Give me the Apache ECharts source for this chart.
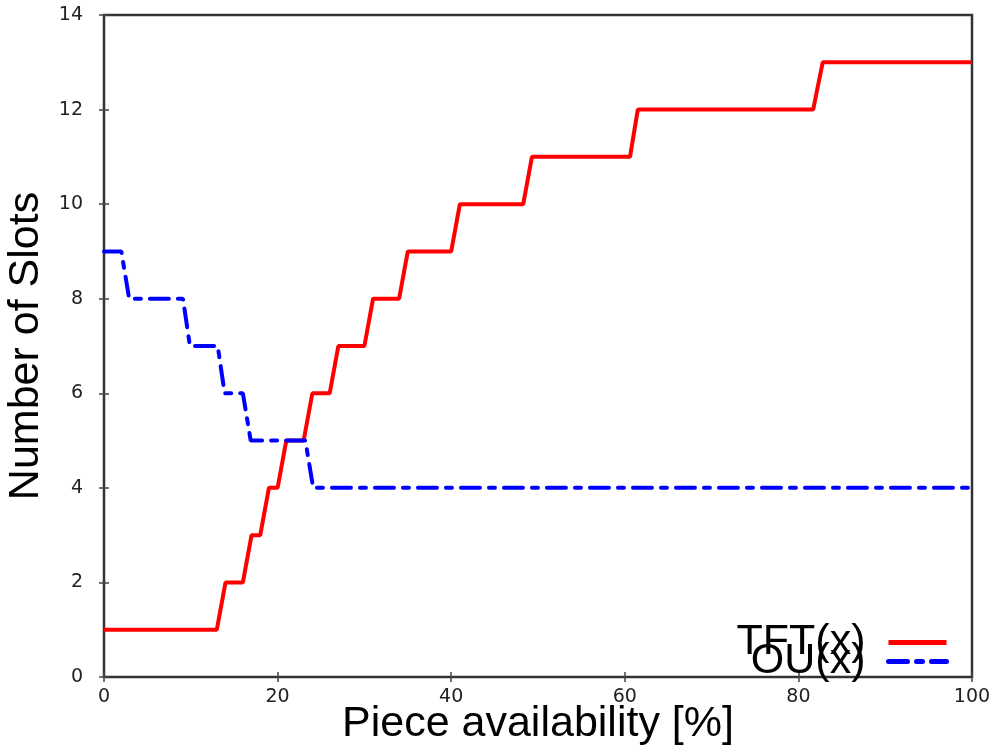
<!DOCTYPE html>
<html>
<head>
<meta charset="utf-8">
<script src="https://cdn.jsdelivr.net/npm/echarts@6/dist/echarts.min.js"></script>
<style>
  html, body { margin: 0; padding: 0; background: #fff; }
  #chart { width: 998px; height: 748px; }
</style>
</head>
<body>
<div id="chart"></div>
<script>
// data
const tftX = [0, 13, 14, 16, 17, 18, 19, 20, 21, 23, 24, 26, 27, 30, 31, 34, 35, 40, 41, 48.3, 49.3, 60.6, 61.5, 81.7, 82.8, 100];
const tftY = [1, 1, 2, 2, 3, 3, 4, 4, 5, 5, 6, 6, 7, 7, 8, 8, 9, 9, 10, 10, 11, 11, 12, 12, 13, 13];
const ouX = [0, 2, 2.9, 9.1, 9.9, 13.1, 13.9, 16, 16.9, 23.2, 24.1, 100];
const ouY = [9, 9, 8, 8, 7, 7, 6, 6, 5, 5, 4, 4];

const pairs = (xs, ys) => xs.map((x, i) => [x, ys[i]]);

const tickFont = { fontFamily: 'DejaVu Sans', fontSize: 19, color: '#222' };
const bigFont = { fontFamily: 'Liberation Sans', fontSize: 43, color: '#000' };
const tick = { inside: true, length: 5, lineStyle: { color: '#444', width: 1.5 } };

const chart = echarts.init(document.getElementById('chart'));
chart.setOption({
  animation: false,
  backgroundColor: '#fff',
  grid: {
    left: 104, right: 26, top: 15, bottom: 71,
    outerBoundsMode: 'none',
    show: true, borderColor: '#333', borderWidth: 2.5
  },
  xAxis: [{
    type: 'value', min: 0, max: 100, interval: 20,
    name: 'Piece availability [%]', nameLocation: 'middle', nameGap: 26,
    nameMoveOverlap: false,
    nameTextStyle: bigFont,
    axisLine: { show: false },
    axisTick: tick,
    axisLabel: Object.assign({ margin: 11 }, tickFont),
    splitLine: { show: false }
  }, {
    type: 'value', position: 'top', min: 0, max: 100, interval: 20,
    axisLine: { show: false },
    axisTick: tick,
    axisLabel: { show: false },
    splitLine: { show: false }
  }],
  yAxis: [{
    type: 'value', min: 0, max: 14, interval: 2,
    name: 'Number of Slots', nameLocation: 'middle', nameGap: 56,
    nameMoveOverlap: false,
    nameTextStyle: bigFont,
    axisLine: { show: false },
    axisTick: tick,
    axisLabel: Object.assign({ margin: 21 }, tickFont),
    splitLine: { show: false }
  }, {
    type: 'value', position: 'right', min: 0, max: 14, interval: 2,
    axisLine: { show: false },
    axisTick: tick,
    axisLabel: { show: false },
    splitLine: { show: false }
  }],
  legend: [{
    data: ['TFT(x)'], right: 44, top: 616, align: 'right',
    itemWidth: 58, itemHeight: 14,
    itemStyle: { opacity: 0 },
    lineStyle: { width: 5 },
    textStyle: Object.assign({ padding: [0, 18, 0, 0] }, bigFont)
  }, {
    data: ['OU(x)'], right: 44, top: 635, align: 'right',
    itemWidth: 58, itemHeight: 14,
    itemStyle: { opacity: 0 },
    lineStyle: { width: 5 },
    textStyle: Object.assign({ padding: [0, 18, 0, 0] }, bigFont)
  }],
  series: [{
    name: 'TFT(x)', type: 'line', data: pairs(tftX, tftY),
    symbol: 'none', color: '#ff0000',
    lineStyle: { color: '#ff0000', width: 4 }
  }, {
    name: 'OU(x)', type: 'line', data: pairs(ouX, ouY),
    symbol: 'none', color: '#0000ff',
    lineStyle: { color: '#0000ff', width: 4, type: [19, 9, 6, 9], cap: 'round' }
  }]
});
</script>
</body>
</html>
